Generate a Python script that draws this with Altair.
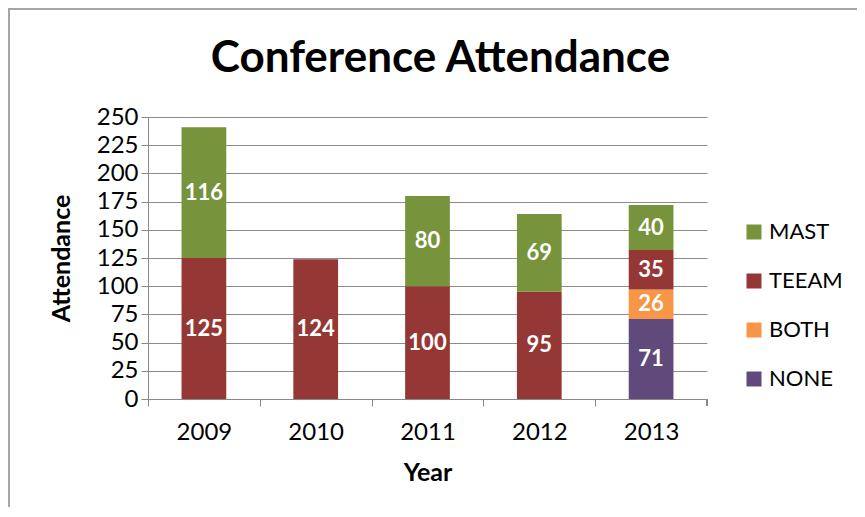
import altair as alt
import pandas as pd

years = ["2009", "2010", "2011", "2012", "2013"]
series = ["NONE", "BOTH", "TEEAM", "MAST"]
mast = [116, None, 80, 69, 40]
teeam = [125, 124, 100, 95, 35]
both = [None, None, None, None, 26]
none_ = [None, None, None, None, 71]
legend_order = ["MAST", "TEEAM", "BOTH", "NONE"]
legend_colors = ["#77933C", "#953735", "#F79646", "#604A7B"]
y_ticks = [0, 25, 50, 75, 100, 125, 150, 175, 200, 225, 250]

rows = []
for s_i, (name, vals) in enumerate(zip(series, [none_, both, teeam, mast])):
    for y, v in zip(years, vals):
        if v is not None:
            rows.append({"year": y, "group": name, "value": v, "ord": s_i})
df = pd.DataFrame(rows)

FONT = "Lato"
W, H = 559, 282
STEP = W / 5.0

base = alt.Chart(df).transform_stack(
    stack="value", groupby=["year"], as_=["y0", "y1"],
    sort=[alt.SortField("ord", order="ascending")]
).transform_calculate(mid="(datum.y0 + datum.y1) / 2")

x_axis = alt.Axis(labelAngle=0, labelFontSize=24, labelFont=FONT, labelColor="#000000",
                  labelPadding=14, tickSize=7, tickOffset=-STEP / 2,
                  labelOffset=STEP / 2, tickColor="#888888",
                  domainColor="#888888", titleFontSize=25, titleFont=FONT,
                  titleFontWeight="bold", titleColor="#000000",
                  titleY=73, titleBaseline="middle", grid=False)
x_scale = alt.Scale(paddingInner=0.6, paddingOuter=0.3)

y_axis = alt.Axis(values=y_ticks, labelFontSize=24, labelFont=FONT, labelColor="#000000",
                  labelPadding=3, tickSize=7, tickColor="#888888", domainColor="#888888",
                  gridColor="#8C8C8C", gridWidth=1, labelOverlap=False,
                  titleFontSize=25, titleFont=FONT, titleFontWeight="bold",
                  titleColor="#000000", titleX=-87, titleY=H / 2,
                  titleBaseline="middle", titleAngle=-90)
y_scale = alt.Scale(domain=[0, 250], nice=False)

bars = base.mark_bar().encode(
    x=alt.X("year:N", sort=years, title="Year", scale=x_scale, axis=x_axis),
    y=alt.Y("y0:Q", title="Attendance", scale=y_scale, axis=y_axis),
    y2="y1:Q",
    color=alt.Color("group:N", title=None,
                    scale=alt.Scale(domain=legend_order, range=legend_colors),
                    legend=alt.Legend(orient="none", legendX=595, legendY=104,
                                      symbolType="square", symbolSize=225, symbolStrokeWidth=0,
                                      labelFontSize=22, labelFont=FONT, labelColor="#000000",
                                      labelOffset=4, rowPadding=27, padding=0)),
)

labels = base.mark_text(font=FONT, fontSize=22, fontWeight="bold", color="white",
                        baseline="middle").encode(
    x=alt.X("year:N", sort=years, title="Year", scale=x_scale, axis=x_axis),
    y=alt.Y("mid:Q", title="Attendance", scale=y_scale, axis=y_axis),
    text=alt.Text("value:Q"),
)

end_tick = alt.Chart(df).mark_rule(color="#888888").encode(
    x=alt.value(W), y=alt.value(H), y2=alt.value(H + 7))

border = alt.Chart(df).mark_rect(fill=None, stroke="#A6A6A6", strokeWidth=2).encode(
    x=alt.value(-139), y=alt.value(-108), x2=alt.value(W + 200), y2=alt.value(H + 200))

chart = alt.layer(border, bars, labels, end_tick).properties(
    width=W, height=H,
    padding={"left": 140, "top": 109, "right": 150, "bottom": 108},
    autosize=alt.AutoSizeParams(type="none"),
    title=alt.TitleParams("Conference Attendance", font=FONT, fontSize=44, fontWeight="bold",
                          color="#000000", anchor="middle", dx=13, offset=-108,
                          baseline="alphabetic"),
).configure_view(stroke=None)

chart.save("out.html", embed_options={"renderer": "svg", "actions": False})
